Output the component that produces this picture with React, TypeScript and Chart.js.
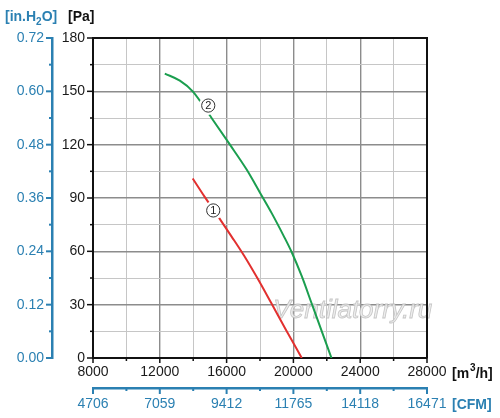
import { useEffect, useRef } from "react";
import { Chart, registerables } from "chart.js";

Chart.register(...registerables);

// ---- data ----
const flowLabels = ["8000", "12000", "16000", "20000", "24000", "28000"];
const cfmLabels = ["4706", "7059", "9412", "11765", "14118", "16471"];
const paLabels = ["0", "30", "60", "90", "120", "150", "180"];
const inH2OLabels = ["0.00", "0.12", "0.24", "0.36", "0.48", "0.60", "0.72"];

const curve1Flow = [13970, 14700, 15500, 16300, 17050, 17850, 18650, 19550, 20500];
const curve1Pressure = [101, 90.5, 79.5, 68.3, 57.5, 44.8, 31.3, 15.9, 0];

const curve2Flow = [12300, 13200, 13970, 15100, 16200, 17200, 18000, 18700, 19400, 19900, 20500, 21100, 21700, 22280];
const curve2Pressure = [160, 156, 150, 135, 120, 106, 93, 81.5, 69, 59.5, 46, 30.5, 15, 0];

const curveLabelTexts = ["1", "2"];
const curveLabelFlow = [15200, 14900];
const curveLabelPressure = [83, 142];

const FONT = "'Liberation Sans', Arial, Helvetica, sans-serif";
const BLUE = "#2b80b2";
const RED = "#e2302f";
const GREEN = "#1b9e4f";
const MAJOR_GRID = "#8c8c8c";
const MINOR_GRID = "#c6c6c6";

const decorPlugin = {
  id: "decor",
  beforeDatasetsDraw(chart: any) {
    const { ctx } = chart;
    const xs = chart.scales.x;
    const ys = chart.scales.y;
    ctx.save();
    ctx.font = `italic 26px ${FONT}`;
    ctx.textAlign = "left";
    ctx.textBaseline = "alphabetic";
    const wx = xs.getPixelForValue(18800);
    const wy = ys.getPixelForValue(22.5);
    ctx.fillStyle = "rgba(236,236,236,0.95)";
    ctx.fillText("Ventilatorry.ru", wx, wy);
    ctx.strokeStyle = "rgba(185,185,185,0.8)";
    ctx.lineWidth = 0.8;
    ctx.strokeText("Ventilatorry.ru", wx, wy);
    ctx.restore();
  },
  afterDatasetsDraw(chart: any) {
    const { ctx } = chart;
    const xs = chart.scales.x;
    const ys = chart.scales.y;
    ctx.save();
    for (let i = 0; i < curveLabelTexts.length; i++) {
      const px = xs.getPixelForValue(curveLabelFlow[i]);
      const py = ys.getPixelForValue(curveLabelPressure[i]);
      ctx.beginPath();
      ctx.arc(px, py, 9.5, 0, Math.PI * 2);
      ctx.fillStyle = "#ffffff";
      ctx.fill();
      ctx.beginPath();
      ctx.arc(px, py, 6.6, 0, Math.PI * 2);
      ctx.strokeStyle = "#333";
      ctx.lineWidth = 1;
      ctx.stroke();
      ctx.fillStyle = "#222";
      ctx.font = `11px ${FONT}`;
      ctx.textAlign = "center";
      ctx.textBaseline = "middle";
      ctx.fillText(curveLabelTexts[i], px, py + 0.5);
    }
    ctx.restore();
  },
  afterDraw(chart: any) {
    const { ctx, chartArea } = chart;
    const { x, y, x2, y2 } = chart.scales;
    ctx.save();
    // frame top/right
    ctx.strokeStyle = "#111";
    ctx.lineWidth = 2;
    ctx.beginPath();
    ctx.moveTo(chartArea.left, chartArea.top);
    ctx.lineTo(chartArea.right, chartArea.top);
    ctx.lineTo(chartArea.right, chartArea.bottom);
    ctx.stroke();

    // tick marks
    const drawTicks = (scale: any, color: string, width: number, isMajor: (v: number) => boolean, majorLen: number, minorLen: number) => {
      ctx.strokeStyle = color;
      ctx.lineWidth = width;
      for (const t of scale.ticks) {
        const v = t.value;
        const len = isMajor(v) ? majorLen : minorLen;
        const p = scale.getPixelForValue(v);
        ctx.beginPath();
        if (scale.isHorizontal()) {
          ctx.moveTo(p, scale.top);
          ctx.lineTo(p, scale.top + len);
        } else {
          ctx.moveTo(scale.right, p);
          ctx.lineTo(scale.right - len, p);
        }
        ctx.stroke();
      }
    };
    drawTicks(x, "#111", 1.5, (v) => v % 4000 === 0, 5, 3);
    drawTicks(y, "#111", 1.5, (v) => v % 30 === 0, 6, 3);
    drawTicks(x2, BLUE, 2, (v) => v % 4000 === 0, 6, 3);
    drawTicks(y2, BLUE, 2, (v) => v % 30 === 0, 6, 3);

    // unit labels
    ctx.textBaseline = "alphabetic";
    ctx.textAlign = "left";
    const bold = (s: number) => `bold ${s}px ${FONT}`;
    // [in.H2O]
    let cx = y2.left + 5;
    const topBase = chartArea.top - 17;
    ctx.fillStyle = BLUE;
    ctx.font = bold(14);
    ctx.fillText("[in.H", cx, topBase);
    cx += ctx.measureText("[in.H").width;
    ctx.font = bold(10);
    ctx.fillText("2", cx, topBase + 4);
    cx += ctx.measureText("2").width;
    ctx.font = bold(14);
    ctx.fillText("O]", cx, topBase);
    // [Pa]
    ctx.fillStyle = "#111";
    ctx.fillText("[Pa]", y.left + 16, topBase);
    // [m3/h]
    let mx = chartArea.right + 25;
    const mBase = x.top + 20;
    ctx.fillText("[m", mx, mBase);
    mx += ctx.measureText("[m").width + 1;
    ctx.font = bold(10);
    ctx.fillText("3", mx, mBase - 7);
    mx += ctx.measureText("3").width;
    ctx.font = bold(14);
    ctx.fillText("/h]", mx, mBase);
    // [CFM]
    ctx.fillStyle = BLUE;
    ctx.fillText("[CFM]", chartArea.right + 25, x2.top + 21);
    ctx.restore();
  },
};

export default function App() {
  const canvasRef = useRef<HTMLCanvasElement | null>(null);

  useEffect(() => {
    if (!canvasRef.current) return;
    const tickFont = { family: FONT, size: 14 };
    const chart = new Chart(canvasRef.current, {
      type: "line",
      data: {
        datasets: [
          {
            label: "1",
            data: curve1Flow.map((f, i) => ({ x: f, y: curve1Pressure[i] })),
            borderColor: RED,
            borderWidth: 2,
            pointRadius: 0,
            cubicInterpolationMode: "monotone",
            fill: false,
          },
          {
            label: "2",
            data: curve2Flow.map((f, i) => ({ x: f, y: curve2Pressure[i] })),
            borderColor: GREEN,
            borderWidth: 2,
            pointRadius: 0,
            cubicInterpolationMode: "monotone",
            fill: false,
          },
        ],
      },
      options: {
        animation: false,
        responsive: true,
        maintainAspectRatio: false,
        layout: { padding: { left: 0, right: 73, top: 38, bottom: 0 } },
        plugins: { legend: { display: false }, tooltip: { enabled: false }, title: { display: false } },
        scales: {
          x: {
            type: "linear",
            position: "bottom",
            axis: "x",
            weight: 0,
            min: 8000,
            max: 28000,
            afterFit: (s: any) => { s.height = 30; },
            grid: {
              drawTicks: false,
              color: (c: any) => (c.tick && c.tick.value % 4000 === 0 ? MAJOR_GRID : MINOR_GRID),
              lineWidth: (c: any) => (c.tick && c.tick.value % 4000 === 0 ? 1.4 : 1),
            },
            border: { color: "#111", width: 2 },
            ticks: {
              stepSize: 2000,
              autoSkip: false,
              maxRotation: 0,
              padding: 6,
              color: "#1a1a1a",
              font: tickFont,
              callback: (v: any) => (v % 4000 === 0 ? flowLabels[(v - 8000) / 4000] : ""),
            },
          },
          x2: {
            type: "linear",
            position: "bottom",
            axis: "x",
            weight: 1,
            min: 8000,
            max: 28000,
            afterFit: (s: any) => { s.height = 30; },
            grid: { display: false, drawTicks: false },
            border: { color: BLUE, width: 2.5 },
            ticks: {
              stepSize: 2000,
              autoSkip: false,
              maxRotation: 0,
              padding: 8,
              color: BLUE,
              font: tickFont,
              callback: (v: any) => (v % 4000 === 0 ? cfmLabels[(v - 8000) / 4000] : ""),
            },
          },
          y: {
            type: "linear",
            position: "left",
            axis: "y",
            weight: 0,
            min: 0,
            max: 180,
            afterFit: (s: any) => { s.width = 41; },
            grid: {
              drawTicks: false,
              color: (c: any) => (c.tick && c.tick.value % 30 === 0 ? MAJOR_GRID : MINOR_GRID),
              lineWidth: (c: any) => (c.tick && c.tick.value % 30 === 0 ? 1.4 : 1),
            },
            border: { color: "#111", width: 2 },
            ticks: {
              stepSize: 15,
              autoSkip: false,
              padding: 8,
              color: "#1a1a1a",
              font: tickFont,
              callback: (v: any) => (v % 30 === 0 ? paLabels[v / 30] : ""),
            },
          },
          y2: {
            type: "linear",
            position: "left",
            axis: "y",
            weight: 1,
            min: 0,
            max: 180,
            afterFit: (s: any) => { s.width = 52; },
            grid: { display: false, drawTicks: false },
            border: { color: BLUE, width: 2.5 },
            ticks: {
              stepSize: 15,
              autoSkip: false,
              padding: 8,
              color: BLUE,
              font: tickFont,
              callback: (v: any) => (v % 30 === 0 ? inH2OLabels[v / 30] : ""),
            },
          },
        },
      } as any,
      plugins: [decorPlugin],
    });
    return () => chart.destroy();
  }, []);

  return (
    <div style={{ position: "absolute", left: 0, top: 0, width: 500, height: 418, background: "#fff" }}>
      <canvas ref={canvasRef} />
    </div>
  );
}
